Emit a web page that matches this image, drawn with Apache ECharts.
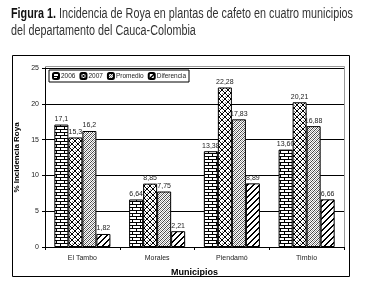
<!DOCTYPE html>
<html>
<head>
<meta charset="utf-8">
<script src="https://cdn.jsdelivr.net/npm/echarts@6/dist/echarts.min.js"></script>
<style>
  html, body { margin: 0; padding: 0; background: #fff; }
  #chart { width: 365px; height: 293px; }
</style>
</head>
<body>
<div id="chart"></div>
<script>
var municipios = ['El Tambo', 'Morales', 'Piendamó', 'Timbío'];
var seriesNames = ['2006', '2007', 'Promedio', 'Diferencia'];
var v2006 = [17.1, 6.64, 13.38, 13.60];
var v2007 = [15.3, 8.85, 22.28, 20.21];
var vProm = [16.2, 7.75, 17.83, 16.88];
var vDif = [1.82, 2.21, 8.89, 6.66];
var lab2006 = ['17,1', '6,64', '13,38', '13,60'];
var lab2007 = ['15,3', '8,85', '22,28', '20,21'];
var labProm = ['16,2', '7,75', '17,83', '16,88'];
var labDif = ['1,82', '2,21', '8,89', '6,66'];
var yTicks = [0, 5, 10, 15, 20, 25];

var titleBold = 'Figura 1.';
var titleLine1 = ' Incidencia de Roya en plantas de cafeto en cuatro municipios';
var titleLine2 = 'del departamento del Cauca-Colombia';

// fill patterns drawn on little canvases
function makePattern(w, h, draw) {
  var c = document.createElement('canvas');
  c.width = w; c.height = h;
  var ctx = c.getContext('2d');
  ctx.fillStyle = '#fff';
  ctx.fillRect(0, 0, w, h);
  ctx.fillStyle = '#000';
  draw(ctx, w, h);
  return { image: c, repeat: 'repeat' };
}

// brick
var patBrick = makePattern(8, 6, function (ctx) {
  ctx.fillRect(0, 0, 8, 1);
  ctx.fillRect(0, 3, 8, 1);
  ctx.fillRect(0, 0, 1, 3);
  ctx.fillRect(4, 3, 1, 3);
});
// zigzag weave
var patZig = makePattern(6, 6, function (ctx) {
  for (var i = 0; i < 6; i++) {
    ctx.fillRect(i, i, 1, 1);
    ctx.fillRect(5 - i, i, 1, 1);
  }
  ctx.fillStyle = '#888';
  ctx.fillRect(3, 0, 1, 1);
  ctx.fillRect(0, 3, 1, 1);
});
// fine check
var patCheck = makePattern(4, 4, function (ctx) {
  ctx.fillStyle = '#444';
  ctx.fillRect(0, 0, 1, 1);
  ctx.fillRect(2, 2, 1, 1);
  ctx.fillRect(1, 3, 1, 1);
  ctx.fillRect(3, 1, 1, 1);
  ctx.fillStyle = '#999';
  ctx.fillRect(2, 0, 1, 1);
  ctx.fillRect(0, 2, 1, 1);
  ctx.fillRect(1, 1, 1, 1);
  ctx.fillRect(3, 3, 1, 1);
});
// wide diagonal stripes
var patDiag = makePattern(6, 6, function (ctx) {
  for (var i = 0; i < 6; i++) {
    ctx.fillRect(5 - i, i, 2, 1);
  }
  ctx.fillRect(0, 0, 1, 1);
});

var pats = [patBrick, patZig, patCheck, patDiag];
var values = [v2006, v2007, vProm, vDif];
var labels = [lab2006, lab2007, labProm, labDif];

var series = seriesNames.map(function (name, k) {
  return {
    name: name,
    type: 'bar',
    barGap: '0%',
    barCategoryGap: '25%',
    data: values[k],
    itemStyle: { color: pats[k], borderColor: '#000', borderWidth: 1 },
    label: {
      show: true,
      position: 'top',
      distance: 2,
      fontSize: 7,
      color: '#222',
      fontFamily: 'Liberation Sans',
      formatter: function (p) { return labels[k][p.dataIndex]; }
    }
  };
});

// the title font is condensed; squeeze a normal sans to the same width
var mc = document.createElement('canvas').getContext('2d');
mc.font = 'bold 14px "Liberation Sans"';
var wBold = mc.measureText(titleBold).width;
mc.font = '14px "Liberation Sans"';
var wRest = mc.measureText(titleLine1).width;
var sx = 342 / (wBold + wRest);

var chart = echarts.init(document.getElementById('chart'), null, { renderer: 'canvas' });
chart.setOption({
  animation: false,
  backgroundColor: '#fff',
  legend: {
    data: seriesNames,
    left: 49,
    top: 70,
    orient: 'horizontal',
    itemWidth: 6,
    itemHeight: 6,
    itemGap: 4,
    padding: [2, 3, 2, 3],
    borderColor: '#000',
    borderWidth: 1,
    textStyle: { fontSize: 6.5, color: '#222', fontFamily: 'Liberation Sans', padding: [0, 0, 0, -3] }
  },
  graphic: [
    { type: 'text', left: 11, top: 7, scaleX: sx, originX: 0,
      style: {
        text: '{b|' + titleBold + '}' + titleLine1,
        font: '14px "Liberation Sans"', fill: '#333',
        rich: { b: { font: 'bold 14px "Liberation Sans"', fill: '#111' } }
      } },
    { type: 'text', left: 11, top: 24, scaleX: sx, originX: 0,
      style: { text: titleLine2, font: '14px "Liberation Sans"', fill: '#333' } },
    { type: 'rect', shape: { x: 12.5, y: 55.5, width: 337, height: 221 },
      style: { fill: null, stroke: '#000', lineWidth: 1 }, silent: true, z: -1 },
    { type: 'rect', shape: { x: 45.5, y: 66.5, width: 299, height: 181 },
      style: { fill: null, stroke: '#999', lineWidth: 1 }, silent: true, z: -1 }
  ],
  grid: { left: 45, right: 21, top: 68, bottom: 46 },
  xAxis: {
    type: 'category',
    data: municipios,
    name: 'Municipios',
    nameLocation: 'middle',
    nameGap: 21,
    nameTextStyle: { fontSize: 9, fontWeight: 'bold', color: '#000', fontFamily: 'Liberation Sans' },
    axisLine: { lineStyle: { color: '#000', width: 1 } },
    axisTick: { show: true, length: 3, lineStyle: { color: '#000' } },
    axisLabel: { fontSize: 7, color: '#222', margin: 8, fontFamily: 'Liberation Sans' }
  },
  yAxis: {
    type: 'value',
    min: yTicks[0],
    max: yTicks[yTicks.length - 1],
    interval: 5,
    name: '% Incidencia Roya',
    nameLocation: 'middle',
    nameGap: 19,
    nameTextStyle: { fontSize: 8, fontWeight: 'bold', color: '#000', fontFamily: 'Liberation Sans' },
    axisLine: { show: true, lineStyle: { color: '#000', width: 1 } },
    axisTick: { show: true, length: 3, lineStyle: { color: '#000' } },
    axisLabel: { fontSize: 7, color: '#222', margin: 6, fontFamily: 'Liberation Sans' },
    splitLine: { show: true, lineStyle: { color: '#000', width: 1 } }
  },
  series: series
});
</script>
</body>
</html>
